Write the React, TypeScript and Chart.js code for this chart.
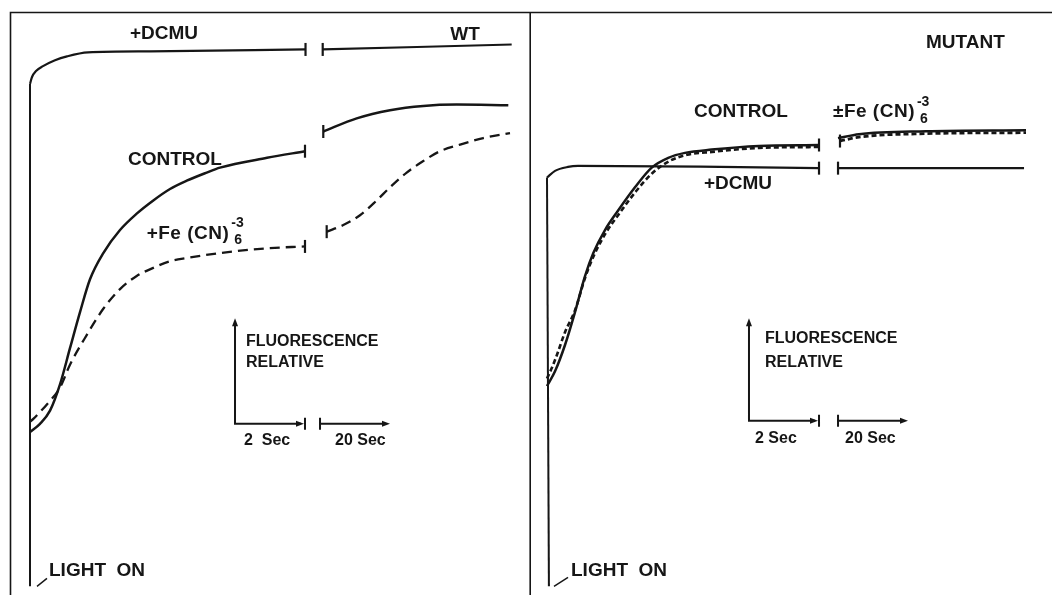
import React, { useEffect, useRef } from "react";
import { Chart, registerables } from "chart.js";

Chart.register(...registerables);

// x: relative time position (fast 2-s segment | break | slow 20-s segment), y: relative fluorescence

// ---- WT panel ----
const wtDcmuRiseX = [0, 0];
const wtDcmuRiseY = [0, 87.48];
const wtDcmuFastX = [0, 0.42, 1.25, 2.71, 5.21, 7.71, 12.08, 25.0, 57.4];
const wtDcmuFastY = [87.48, 88.68, 89.71, 90.57, 91.6, 92.28, 92.97, 93.14, 93.48];
const wtDcmuSlowX = [60.98, 100.35];
const wtDcmuSlowY = [93.48, 94.34];

const wtControlFastX = [0, 2.08, 4.17, 6.25, 8.33, 10.42, 12.5, 15.27, 18.75, 22.23, 25.69, 29.17, 32.65, 36.81, 39.58, 49.38, 57.29];
const wtControlFastY = [26.88, 28.3, 30.58, 35.16, 41.46, 47.74, 53.46, 58.03, 62.04, 64.89, 67.19, 69.18, 70.62, 72.04, 72.9, 74.61, 75.76];
const wtControlSlowX = [61.1, 68.06, 75.0, 81.94, 88.9, 99.65];
const wtControlSlowY = [79.19, 81.48, 82.9, 83.65, 83.88, 83.76];

const wtFerriFastX = [0, 0.69, 4.17, 6.25, 8.33, 11.81, 15.27, 18.75, 22.23, 25.69, 29.17, 32.65, 39.58, 48.96, 57.29];
const wtFerriFastY = [28.64, 29.16, 32.3, 34.6, 38.59, 43.74, 48.32, 51.75, 54.03, 55.45, 56.6, 57.17, 58.03, 58.83, 59.18];
const wtFerriSlowX = [61.81, 65.27, 68.75, 72.23, 75.0, 78.48, 81.94, 85.42, 89.58, 94.44, 100.0];
const wtFerriSlowY = [61.75, 62.9, 64.61, 67.19, 69.47, 72.04, 74.05, 75.76, 76.9, 78.04, 78.9];

// ---- MUTANT panel ----
const mutDcmuRiseX = [0.4, 0];
const mutDcmuRiseY = [0, 71.18];
const mutDcmuFastX = [0, 1.67, 4.38, 6.46, 31.9, 56.67];
const mutDcmuFastY = [71.18, 72.33, 73.02, 73.19, 73.07, 72.81];
const mutDcmuSlowX = [60.63, 99.38];
const mutDcmuSlowY = [72.81, 72.81];

const mutControlFastX = [0, 1.67, 3.75, 5.83, 7.92, 9.65, 12.08, 14.85, 18.33, 21.81, 25.27, 28.75, 34.31, 44.17, 56.67];
const mutControlFastY = [34.87, 37.44, 42.02, 47.74, 54.03, 58.03, 62.04, 65.47, 69.47, 72.9, 74.61, 75.47, 76.04, 76.67, 76.84];
const mutControlSlowX = [60.63, 65.0, 78.96, 99.79];
const mutControlSlowY = [78.04, 78.73, 79.25, 79.42];

const mutFerriFastX = [0, 1.04, 2.08, 3.75, 5.83, 7.92, 9.79, 12.29, 15.0, 18.54, 22.08, 25.63, 29.17, 34.38, 44.17, 56.67];
const mutFerriFastY = [36.19, 38.08, 40.31, 44.25, 48.03, 53.69, 57.63, 61.58, 64.84, 68.78, 72.04, 74.1, 75.13, 75.64, 76.33, 76.5];
const mutFerriSlowX = [61.04, 65.0, 78.96, 99.79];
const mutFerriSlowY = [77.53, 78.22, 78.82, 78.99];

const INK = "#161616";
const FONT = '"Liberation Sans", Arial, Helvetica, sans-serif';

type Note = { text: string; x: number; y: number; size: number; align?: CanvasTextAlign; sup?: string; sub?: string; spacing?: number };
type Inset = { x0: number; y0: number; yTop: number; xEnd1: number; xStart2: number; xEnd2: number };
type Decor = {
  notes: Note[];
  inset: Inset;
  diag: [number, number, number, number];
  frameLeft: boolean;
  frameRight: boolean;
};

const pts = (xs: number[], ys: number[]) => xs.map((x, i) => ({ x, y: ys[i] }));

function trace(
  xs: number[],
  ys: number[],
  o: { dash?: number[]; width?: number; tick?: "start" | "end" | "none"; straight?: boolean } = {}
) {
  const n = xs.length;
  const tick = o.tick ?? "none";
  return {
    data: pts(xs, ys),
    borderColor: INK,
    borderWidth: o.width ?? 2.5,
    borderDash: o.dash ?? [],
    borderCapStyle: "butt",
    fill: false,
    tension: o.straight ? 0 : 0.4,
    cubicInterpolationMode: o.straight ? "default" : "monotone",
    clip: false,
    pointStyle: "line",
    pointRotation: 90,
    pointBorderColor: INK,
    pointBackgroundColor: INK,
    pointBorderWidth: 2.2,
    pointRadius: (c: any) =>
      (tick === "start" && c.dataIndex === 0) || (tick === "end" && c.dataIndex === n - 1) ? 6.5 : 0,
    pointHoverRadius: 0,
  };
}

function makeDecor(cfg: Decor) {
  return {
    id: "figureDecor",
    afterDatasetsDraw(chart: any) {
      const { ctx } = chart;
      const X = (v: number) => chart.scales.x.getPixelForValue(v);
      const Y = (v: number) => chart.scales.y.getPixelForValue(v);
      const W = chart.width;
      const H = chart.height;
      ctx.save();
      ctx.strokeStyle = INK;
      ctx.fillStyle = INK;
      ctx.setLineDash([]);
      ctx.lineCap = "butt";

      // frame
      ctx.lineWidth = 1.6;
      ctx.beginPath();
      if (cfg.frameLeft) {
        ctx.moveTo(10.5, H);
        ctx.lineTo(10.5, 12.5);
        ctx.lineTo(W, 12.5);
      } else {
        ctx.moveTo(0, 12.5);
        ctx.lineTo(W, 12.5);
      }
      if (cfg.frameRight) {
        ctx.moveTo(W - 0.8, 12.5);
        ctx.lineTo(W - 0.8, H);
      }
      ctx.stroke();

      // light-on pointer
      const d = cfg.diag;
      ctx.lineWidth = 1.5;
      ctx.beginPath();
      ctx.moveTo(X(d[0]), Y(d[1]));
      ctx.lineTo(X(d[2]), Y(d[3]));
      ctx.stroke();

      // inset axes (scale bars)
      const s = cfg.inset;
      const ox = X(s.x0), oy = Y(s.y0);
      const top = Y(s.yTop), e1 = X(s.xEnd1), s2 = X(s.xStart2), e2 = X(s.xEnd2);
      ctx.lineWidth = 2;
      ctx.beginPath();
      ctx.moveTo(ox, top + 4);
      ctx.lineTo(ox, oy);
      ctx.lineTo(e1 - 4, oy);
      ctx.moveTo(s2, oy);
      ctx.lineTo(e2 - 5, oy);
      ctx.moveTo(e1, oy - 6);
      ctx.lineTo(e1, oy + 6);
      ctx.moveTo(s2, oy - 6);
      ctx.lineTo(s2, oy + 6);
      ctx.stroke();
      const arrow = (x: number, y: number, dir: "up" | "right") => {
        ctx.beginPath();
        if (dir === "up") {
          ctx.moveTo(x, y);
          ctx.lineTo(x - 3, y + 8);
          ctx.lineTo(x + 3, y + 8);
        } else {
          ctx.moveTo(x, y);
          ctx.lineTo(x - 8, y - 3);
          ctx.lineTo(x - 8, y + 3);
        }
        ctx.closePath();
        ctx.fill();
      };
      arrow(ox, top, "up");
      arrow(e1 - 1, oy, "right");
      arrow(e2, oy, "right");

      // text (y given at the vertical centre of the capitals)
      ctx.textBaseline = "alphabetic";
      for (const n of cfg.notes) {
        ctx.font = `bold ${n.size}px ${FONT}`;
        (ctx as any).letterSpacing = `${n.spacing ?? 0}px`;
        ctx.textAlign = n.align ?? "left";
        const px = X(n.x), py = Y(n.y) + n.size * 0.36;
        ctx.fillText(n.text, px, py);
        if (n.sup || n.sub) {
          const w = ctx.measureText(n.text).width;
          const sx = (n.align === "center" ? px + w / 2 : px + w) + 2;
          const ss = Math.round(n.size * 0.75);
          ctx.font = `bold ${ss}px ${FONT}`;
          (ctx as any).letterSpacing = "0px";
          ctx.textAlign = "left";
          if (n.sup) ctx.fillText(n.sup, sx, py - n.size * 0.6);
          if (n.sub) ctx.fillText(n.sub, sx + 3, py + n.size * 0.3);
        }
      }
      (ctx as any).letterSpacing = "0px";
      ctx.restore();
    },
  };
}

const wtDatasets = () => [
  trace(wtDcmuRiseX, wtDcmuRiseY, { straight: true, width: 2 }),
  trace(wtDcmuFastX, wtDcmuFastY, { tick: "end", width: 2.2 }),
  trace(wtDcmuSlowX, wtDcmuSlowY, { tick: "start", width: 2.2 }),
  trace(wtControlFastX, wtControlFastY, { tick: "end" }),
  trace(wtControlSlowX, wtControlSlowY, { tick: "start" }),
  trace(wtFerriFastX, wtFerriFastY, { tick: "end", dash: [10, 6], width: 2.3 }),
  trace(wtFerriSlowX, wtFerriSlowY, { tick: "start", dash: [10, 6], width: 2.3 }),
];

const mutDatasets = () => [
  trace(mutDcmuRiseX, mutDcmuRiseY, { straight: true, width: 2 }),
  trace(mutDcmuFastX, mutDcmuFastY, { tick: "end", width: 2.2 }),
  trace(mutDcmuSlowX, mutDcmuSlowY, { tick: "start", width: 2.2 }),
  trace(mutControlFastX, mutControlFastY, { tick: "end" }),
  trace(mutControlSlowX, mutControlSlowY, { width: 2.5 }),
  trace(mutFerriFastX, mutFerriFastY, { dash: [5, 3], width: 2.6 }),
  trace(mutFerriSlowX, mutFerriSlowY, { tick: "start", dash: [5, 3], width: 2.8 }),
];

const wtDecor: Decor = {
  frameLeft: true,
  frameRight: true,
  diag: [1.46, 0, 3.54, 1.37],
  inset: { x0: 42.71, y0: 28.3, yTop: 46.66, xEnd1: 57.29, xStart2: 60.42, xEnd2: 75.0 },
  notes: [
    { text: "+DCMU", x: 27.92, y: 96.57, size: 19, align: "center" },
    { text: "WT", x: 90.63, y: 96.35, size: 19, align: "center" },
    { text: "CONTROL", x: 20.4, y: 74.61, size: 19 },
    { text: "+Fe (CN)", x: 24.3, y: 61.75, size: 19, sup: "-3", sub: "6", spacing: 0.5 },
    { text: "FLUORESCENCE", x: 45.0, y: 42.88, size: 16 },
    { text: "RELATIVE", x: 45.0, y: 39.11, size: 16 },
    { text: "2  Sec", x: 44.58, y: 25.56, size: 16 },
    { text: "20 Sec", x: 63.54, y: 25.56, size: 16 },
    { text: "LIGHT  ON", x: 3.96, y: 2.92, size: 19 },
  ],
};

const mutDecor: Decor = {
  frameLeft: false,
  frameRight: false,
  diag: [1.46, 0, 4.38, 1.54],
  inset: { x0: 42.08, y0: 28.82, yTop: 46.66, xEnd1: 56.67, xStart2: 60.63, xEnd2: 75.21 },
  notes: [
    { text: "MUTANT", x: 78.96, y: 94.85, size: 19 },
    { text: "CONTROL", x: 30.63, y: 82.85, size: 19 },
    { text: "\u00B1Fe (CN)", x: 59.58, y: 82.85, size: 19, sup: "-3", sub: "6", spacing: 0.5 },
    { text: "+DCMU", x: 32.71, y: 70.33, size: 19 },
    { text: "FLUORESCENCE", x: 45.42, y: 43.4, size: 16 },
    { text: "RELATIVE", x: 45.42, y: 39.11, size: 16 },
    { text: "2 Sec", x: 43.33, y: 25.9, size: 16 },
    { text: "20 Sec", x: 62.08, y: 25.9, size: 16 },
    { text: "LIGHT  ON", x: 5.0, y: 2.92, size: 19 },
  ],
};

function Panel(props: {
  left: number;
  width: number;
  padLeft: number;
  padRight: number;
  datasets: () => any[];
  decor: Decor;
}) {
  const ref = useRef<HTMLCanvasElement | null>(null);
  useEffect(() => {
    if (!ref.current) return;
    const chart = new Chart(ref.current, {
      type: "line",
      data: { datasets: props.datasets() as any },
      options: {
        responsive: false,
        maintainAspectRatio: false,
        animation: false,
        events: [],
        layout: { padding: { left: props.padLeft, right: props.padRight, top: 12, bottom: 0 } },
        plugins: {
          legend: { display: false },
          tooltip: { enabled: false },
          title: { display: false },
        },
        scales: {
          x: { type: "linear", min: 0, max: 100, display: false },
          y: { type: "linear", min: 0, max: 100, display: false },
        },
      } as any,
      plugins: [makeDecor(props.decor) as any],
    });
    return () => chart.destroy();
  }, []);
  return (
    <canvas
      ref={ref}
      width={props.width}
      height={595}
      style={{ position: "absolute", left: props.left, top: 0, width: props.width, height: 595 }}
    />
  );
}

export default function App() {
  return (
    <div style={{ position: "absolute", left: 0, top: 0, width: 1052, height: 595, background: "#ffffff", overflow: "hidden" }}>
      <Panel left={0} width={531} padLeft={30} padRight={21} datasets={wtDatasets} decor={wtDecor} />
      <Panel left={531} width={521} padLeft={16} padRight={25} datasets={mutDatasets} decor={mutDecor} />
    </div>
  );
}
